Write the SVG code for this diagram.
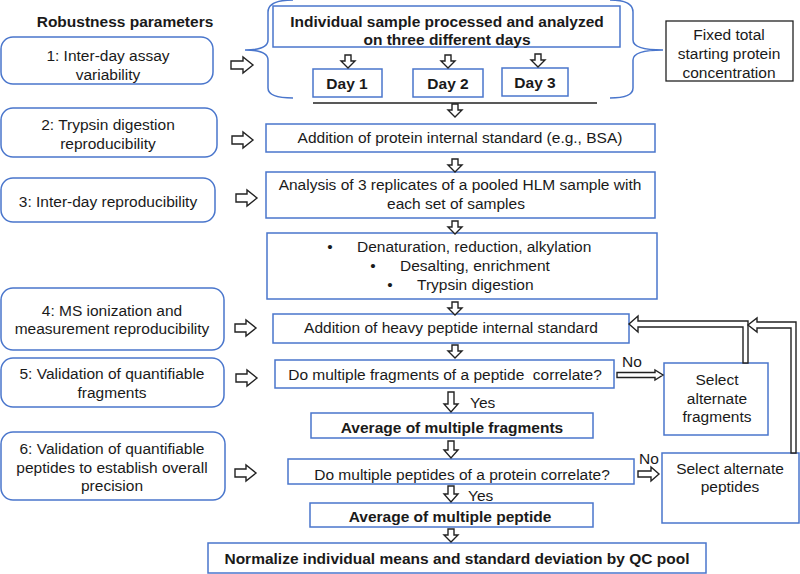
<svg xmlns="http://www.w3.org/2000/svg" width="800" height="574" viewBox="0 0 800 574">
<defs>
<style>
text{font-family:"Liberation Sans",Arial,sans-serif;font-size:15.5px;fill:#1a1a1a;text-anchor:middle}
.b{font-weight:bold}
.l{text-anchor:start}
.rb{fill:#fff;stroke:#4a76cc;stroke-width:1.5}
.sb{fill:#fff;stroke:#4a76cc;stroke-width:1.5}
.kb{fill:#fff;stroke:#222;stroke-width:1.3}
.ar{fill:#fff;stroke:#222;stroke-width:1.4;stroke-linejoin:miter}
.br{fill:none;stroke:#4a76cc;stroke-width:1.5}
</style>
</defs>
<rect width="800" height="574" fill="#fff"/>

<text class="b" x="125" y="27">Robustness parameters</text>

<g id="p1"><rect class="rb" x="1" y="37" width="212" height="47" rx="12"/><text x="108" y="61">1: Inter-day assay</text><text x="108" y="80">variability</text></g>
<g id="p2"><rect class="rb" x="1" y="108" width="216" height="49" rx="12"/><text x="108" y="130">2: Trypsin digestion</text><text x="108" y="149">reproducibility</text></g>
<g id="p3"><rect class="rb" x="1" y="178" width="214" height="44" rx="12"/><text x="108" y="207">3: Inter-day reproducibility</text></g>
<g id="p4"><rect class="rb" x="1" y="288" width="223" height="62" rx="12"/><text x="112" y="316">4: MS ionization and</text><text x="112" y="334">measurement reproducibility</text></g>
<g id="p5"><rect class="rb" x="1" y="358" width="223" height="49" rx="12"/><text x="112" y="379">5: Validation of quantifiable</text><text x="112" y="398">fragments</text></g>
<g id="p6"><rect class="rb" x="1" y="432" width="224" height="68" rx="12"/><text x="112" y="454">6: Validation of quantifiable</text><text x="112" y="473">peptides to establish overall</text><text x="112" y="491">precision</text></g>

<g id="top"><rect class="sb" x="273" y="6" width="347" height="41"/><text class="b" x="447" y="27">Individual sample processed and analyzed</text><text class="b" x="447" y="45">on three different days</text></g>
<g id="day1"><rect class="sb" x="313" y="69" width="69" height="28"/><text class="b" x="347" y="89">Day 1</text></g>
<g id="day2"><rect class="sb" x="413" y="69" width="70" height="28"/><text class="b" x="448" y="89">Day 2</text></g>
<g id="day3"><rect class="sb" x="502" y="68" width="66" height="28"/><text class="b" x="535" y="88">Day 3</text></g>
<g id="fixed"><rect class="kb" x="666" y="21" width="127" height="60"/><text x="729" y="40">Fixed total</text><text x="729" y="59">starting protein</text><text x="729" y="78">concentration</text></g>

<g id="bsa"><rect class="sb" x="266" y="124" width="389" height="28"/><text x="460" y="143">Addition of protein internal standard (e.g., BSA)</text></g>
<g id="hlm"><rect class="sb" x="266" y="172" width="389" height="46"/><text x="460" y="190">Analysis of 3 replicates of a pooled HLM sample with</text><text x="456" y="209">each set of samples</text></g>
<g id="prep"><rect class="sb" x="267" y="233" width="390" height="66"/>
<text x="330" y="252">•</text><text class="l" x="357" y="252">Denaturation, reduction, alkylation</text>
<text x="373" y="271">•</text><text class="l" x="400" y="271">Desalting, enrichment</text>
<text x="390" y="290">•</text><text class="l" x="417" y="290">Trypsin digestion</text></g>
<g id="heavy"><rect class="sb" x="273" y="314" width="356" height="29"/><text x="451" y="333">Addition of heavy peptide internal standard</text></g>
<g id="frag"><rect class="sb" x="275" y="360" width="339" height="28"/><text x="445" y="380">Do multiple fragments of a peptide &#160;correlate?</text></g>
<g id="selfrag"><rect class="sb" x="664" y="363" width="104" height="72"/><text x="717" y="385">Select</text><text x="717" y="404">alternate</text><text x="717" y="422">fragments</text></g>
<g id="avgfrag"><rect class="sb" x="311" y="413" width="282" height="25"/><text class="b" x="452" y="433">Average of multiple fragments</text></g>
<g id="pep"><rect class="sb" x="288" y="459" width="346" height="25"/><text x="462" y="480">Do multiple peptides of a protein correlate?</text></g>
<g id="selpep"><rect class="sb" x="662" y="453" width="137" height="70"/><text x="730" y="474">Select alternate</text><text x="730" y="492">peptides</text></g>
<g id="avgpep"><rect class="sb" x="310" y="503" width="283" height="24"/><text class="b" x="450" y="522">Average of multiple peptide</text></g>
<g id="norm"><rect class="sb" x="208" y="543" width="498" height="30"/><text class="b" x="457" y="564">Normalize individual means and standard deviation by QC pool</text></g>

<g id="connectors">
<path class="br" d="M293,0 Q268,0 268,12 L268,40 Q268,50 245,50 Q268,50 268,60 L268,88 Q268,98 293,98"/>
<path class="br" d="M610,0 Q633,0 633,12 L633,40 Q633,50 663,50 Q633,50 633,60 L633,88 Q633,98 610,98"/>
<line x1="313" y1="103" x2="597" y2="103" stroke="#222" stroke-width="1.5"/>

<polygon class="ar" points="231,61 243,61 243,57 253,65 243,73 243,69 231,69"/>
<polygon class="ar" points="232,136 243,136 243,132 253,140 243,148 243,144 232,144"/>
<polygon class="ar" points="236,194 247,194 247,190 257,198 247,206 247,202 236,202"/>
<polygon class="ar" points="235,324 246,324 246,320 256,328 246,336 246,332 235,332"/>
<polygon class="ar" points="236,374 247,374 247,370 257,378 247,386 247,382 236,382"/>
<polygon class="ar" points="235,469 246,469 246,465 256,473 246,481 246,477 235,477"/>

<polygon class="ar" points="345,55 351,55 351,61 355,61 348,68 341,61 345,61"/>
<polygon class="ar" points="445,55 451,55 451,61 455,61 448,68 441,61 445,61"/>
<polygon class="ar" points="535,54 541,54 541,60 545,60 538,67 531,60 535,60"/>
<polygon class="ar" points="452,104 458,104 458,110 462,110 455,117 448,110 452,110"/>
<polygon class="ar" points="452,159 458,159 458,165 462,165 455,172 448,165 452,165"/>
<polygon class="ar" points="452,221 458,221 458,227 462,227 455,234 448,227 452,227"/>
<polygon class="ar" points="452,302 458,302 458,308 462,308 455,315 448,308 452,308"/>
<polygon class="ar" points="452,345 458,345 458,351 462,351 455,358 448,351 452,351"/>
<polygon class="ar" points="448,392 454,392 454,404 458,404 451,412 444,404 448,404"/>
<polygon class="ar" points="448,441 454,441 454,450 458,450 451,458 444,450 448,450"/>
<polygon class="ar" points="448,486 454,486 454,494 458,494 451,502 444,494 448,494"/>
<polygon class="ar" points="448,529 454,529 454,535 458,535 451,542 444,535 448,535"/>

<polygon class="ar" points="617,372.5 655,372.5 655,370 663,375 655,380 655,377.5 617,377.5"/>
<polygon class="ar" points="638,471 651,471 651,467 659,474 651,481 651,477 638,477"/>

<polygon class="ar" points="743,363 743,327 638,327 638,332 629,324 638,316 638,321 748,321 748,363"/>
<polygon class="ar" points="791,453 791,328 757,328 757,332 748,325 757,318 757,322 796,322 796,453"/>

<text class="l" x="622" y="367">No</text>
<text class="l" x="470" y="408">Yes</text>
<text class="l" x="639" y="464">No</text>
<text class="l" x="468" y="501">Yes</text>
</g>
</svg>
